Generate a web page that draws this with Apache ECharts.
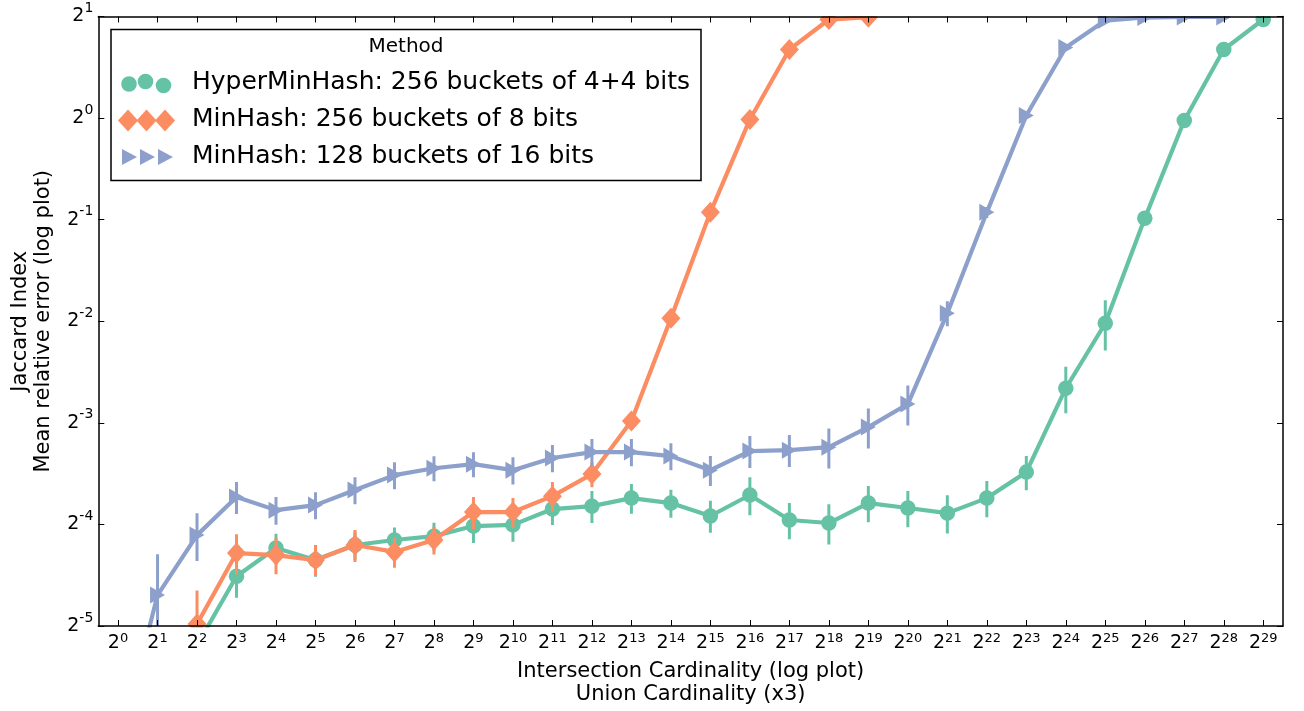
<!DOCTYPE html>
<html>
<head>
<meta charset="utf-8">
<script src="https://cdn.jsdelivr.net/npm/echarts@6/dist/echarts.min.js"></script>
<style>html,body{margin:0;padding:0;background:#fff}#c{width:1304px;height:711px}</style>
</head>
<body>
<div id="c"></div>
<script>
// x categories: exponents of 2 (Intersection cardinality = 2^k)
const xExponents = [0,1,2,3,4,5,6,7,8,9,10,11,12,13,14,15,16,17,18,19,20,21,22,23,24,25,26,27,28,29];
const seriesNames = [
  'HyperMinHash: 256 buckets of 4+4 bits',
  'MinHash: 256 buckets of 8 bits',
  'MinHash: 128 buckets of 16 bits'
];
const legendTitle = 'Method';
const xTitle = 'Intersection Cardinality (log plot)\nUnion Cardinality (x3)';
const yTitle = 'Jaccard Index\nMean relative error (log plot)';

// mean relative error
const hyperMinHash = [null, null, 0.0274, 0.0439, 0.0532, 0.0490, 0.0543, 0.0562, 0.0577, 0.0618, 0.0623, 0.0694, 0.0708, 0.0748, 0.0723, 0.0662, 0.0764, 0.0644, 0.0631, 0.0723, 0.0699, 0.0675, 0.0748, 0.0893, 0.1583, 0.2466, 0.5045, 0.984, 1.597, 1.959];
const hyperMinHashStd = [null, null, 0.005, 0.0060, 0.0054, 0.0053, 0.0052, 0.0050, 0.0055, 0.0067, 0.0068, 0.0071, 0.0077, 0.0076, 0.0069, 0.0072, 0.0099, 0.0079, 0.0086, 0.0089, 0.0086, 0.0088, 0.0092, 0.0104, 0.0249, 0.042, 0.02, 0.02, 0.02, 0.01];

const minHash256 = [null, null, 0.0317, 0.0514, 0.0507, 0.0490, 0.0543, 0.0518, 0.0562, 0.0680, 0.0680, 0.0758, 0.0881, 0.1265, 0.2553, 0.5256, 0.991, 1.597, 1.959, 1.99];
const minHash256Std = [null, null, 0.0081, 0.0070, 0.0062, 0.0050, 0.0059, 0.0053, 0.0053, 0.0074, 0.0069, 0.0077, 0.0075, 0.005, 0.01, 0.02, 0.02, 0.02, 0.02, 0.01];

const minHash128 = [0.0133, 0.0386, 0.0581, 0.0753, 0.0689, 0.0713, 0.0790, 0.0875, 0.0917, 0.0943, 0.0905, 0.0983, 0.1024, 0.1024, 0.0996, 0.0905, 0.1031, 0.1037, 0.1059, 0.1214, 0.1421, 0.2641, 0.5256, 1.018, 1.619, 1.945, 1.986, 1.993, 1.993];
const minHash128Std = [0.005, 0.0124, 0.0094, 0.0082, 0.0065, 0.0066, 0.0073, 0.0081, 0.0078, 0.0080, 0.0084, 0.0091, 0.0095, 0.0095, 0.0092, 0.0092, 0.0112, 0.0113, 0.0144, 0.0165, 0.0193, 0.0224, 0.02, 0.02, 0.02, 0.01, 0.005, 0.005, 0.005];

const yMin = 1 / 32, yMax = 2;
const colors = ['#66c2a5', '#fc8d62', '#8da0cb'];
const FONT = 'DejaVu Sans';

function errData(vals, std) {
  const out = [];
  vals.forEach((v, i) => { if (v != null && std[i] != null) out.push([i, v - std[i], v + std[i]]); });
  return out;
}

function errSeries(vals, std, color, z) {
  return {
    type: 'custom', z: z, clip: true, silent: true,
    data: errData(vals, std),
    encode: { x: 0, y: [1, 2] },
    renderItem: function (params, api) {
      const x = api.value(0);
      const p1 = api.coord([x, api.value(1)]);
      const p2 = api.coord([x, api.value(2)]);
      return { type: 'line', shape: { x1: p1[0], y1: p1[1], x2: p2[0], y2: p2[1] },
               style: { stroke: color, lineWidth: 3 } };
    }
  };
}

function lineSeries(name, vals, color, symbol, size, rotate, z) {
  return {
    name: name, type: 'line', data: vals, z: z,
    symbol: symbol, symbolSize: size, symbolRotate: rotate,
    showSymbol: true, showAllSymbol: true, connectNulls: false, clip: true,
    lineStyle: { color: color, width: 4.2 },
    itemStyle: { color: color, borderWidth: 0 },
    emphasis: { disabled: true }, silent: true
  };
}

const xRich = {
  b: { fontSize: 19, fontFamily: FONT, color: '#000', lineHeight: 22, verticalAlign: 'middle' },
  s: { fontSize: 13, fontFamily: FONT, color: '#000', lineHeight: 18, verticalAlign: 'top' }
};
const yRich = {
  b: { fontSize: 19, fontFamily: FONT, color: '#000', lineHeight: 30, verticalAlign: 'middle' },
  s: { fontSize: 14, fontFamily: FONT, color: '#000', lineHeight: 14, verticalAlign: 'top' }
};

const axisLineStyle = { color: '#000', width: 1.5 };
const tickStyle = { color: '#000', width: 1 };

const chart = echarts.init(document.getElementById('c'), null, { renderer: 'canvas' });

// legend drawn as graphics (3 markers per entry like the original)
const lg = { x: 111, y: 29.5, w: 590, h: 151 };
const rowY = [83, 120, 157];
const legendEls = [
  { type: 'rect', z: 100, shape: { x: lg.x, y: lg.y, width: lg.w, height: lg.h },
    style: { fill: '#fff', stroke: '#000', lineWidth: 1.5 } },
  { type: 'text', z: 101, x: lg.x + lg.w / 2, y: 47,
    style: { text: legendTitle, fontSize: 20, fontFamily: FONT, fill: '#000', align: 'center', verticalAlign: 'middle' } }
];
const circX = [129, 145.5, 163.5], circY = [84, 81.5, 85.5];
circX.forEach((cx, k) => {
  legendEls.push({ type: 'circle', z: 101, shape: { cx: cx, cy: circY[k], r: 7.8 }, style: { fill: colors[0] } });
});
[128, 146.5, 165].forEach((cx) => {
  const cy = rowY[1] + 0.5;
  legendEls.push({ type: 'polygon', z: 101, shape: { points: [[cx - 10, cy], [cx, cy - 11], [cx + 10, cy], [cx, cy + 11]] }, style: { fill: colors[1] } });
});
[129, 147, 165].forEach((cx) => {
  const cy = rowY[2];
  legendEls.push({ type: 'polygon', z: 101, shape: { points: [[cx - 7, cy - 8], [cx + 8, cy], [cx - 7, cy + 8]] }, style: { fill: colors[2] } });
});
seriesNames.forEach((n, k) => {
  legendEls.push({ type: 'text', z: 101, x: 192, y: rowY[k] - 1,
    style: { text: n, fontSize: 25, fontFamily: FONT, fill: '#000', align: 'left', verticalAlign: 'middle' } });
});
// masks that clip markers at the top / bottom frame edges
legendEls.push({ type: 'rect', z: 8, silent: true, shape: { x: 99, y: 0, width: 1184, height: 16 }, style: { fill: '#fff' } });
legendEls.push({ type: 'rect', z: 8, silent: true, shape: { x: 99, y: 627.5, width: 1184, height: 7 }, style: { fill: '#fff' } });

const option = {
  animation: false,
  backgroundColor: '#fff',
  textStyle: { fontFamily: FONT },
  grid: { left: 98.3, right: 21, top: 16.5, bottom: 84.3, containLabel: false },
  xAxis: [
    {
      type: 'category', data: xExponents, boundaryGap: true, position: 'bottom', z: 10,
      axisLine: { show: true, onZero: false, lineStyle: axisLineStyle },
      axisTick: { show: true, inside: true, alignWithLabel: true, length: 6, lineStyle: tickStyle },
      axisLabel: { margin: 6, interval: 0, formatter: v => '{b|2}{s|' + v + '}', rich: xRich },
      splitLine: { show: false },
      name: xTitle, nameLocation: 'middle', nameGap: 34,
      nameTextStyle: { fontSize: 21, fontFamily: FONT, color: '#000', lineHeight: 23 }
    },
    {
      type: 'category', data: xExponents, boundaryGap: true, position: 'top', z: 10,
      axisLine: { show: true, onZero: false, lineStyle: axisLineStyle },
      axisTick: { show: true, inside: true, alignWithLabel: true, length: 6, lineStyle: tickStyle },
      axisLabel: { show: false }, splitLine: { show: false }
    }
  ],
  yAxis: [
    {
      type: 'log', logBase: 2, min: yMin, max: yMax, splitNumber: 6, position: 'left', z: 10,
      axisLine: { show: true, onZero: false, lineStyle: axisLineStyle },
      axisTick: { show: true, inside: true, length: 6, lineStyle: tickStyle },
      axisLabel: { margin: 5, formatter: v => '{b|2}{s|' + Math.round(Math.log(v) / Math.LN2) + '}', rich: yRich },
      splitLine: { show: false }, minorTick: { show: false },
      name: yTitle, nameLocation: 'middle', nameGap: 43, nameRotate: 90,
      nameTextStyle: { fontSize: 21, fontFamily: FONT, color: '#000', lineHeight: 23 }
    },
    {
      type: 'log', logBase: 2, min: yMin, max: yMax, splitNumber: 6, position: 'right', z: 10,
      axisLine: { show: true, onZero: false, lineStyle: axisLineStyle },
      axisTick: { show: true, inside: true, length: 6, lineStyle: tickStyle },
      axisLabel: { show: false }, splitLine: { show: false }
    }
  ],
  graphic: { elements: legendEls },
  series: [
    errSeries(hyperMinHash, hyperMinHashStd, colors[0], 2),
    lineSeries(seriesNames[0], hyperMinHash, colors[0], 'circle', 15.5, 0, 2),
    errSeries(minHash256, minHash256Std, colors[1], 3),
    lineSeries(seriesNames[1], minHash256, colors[1], 'diamond', [19, 21], 0, 3),
    errSeries(minHash128, minHash128Std, colors[2], 4),
    lineSeries(seriesNames[2], minHash128, colors[2], 'triangle', [17, 15], -90, 4)
  ]
};
chart.setOption(option);
</script>
</body>
</html>
